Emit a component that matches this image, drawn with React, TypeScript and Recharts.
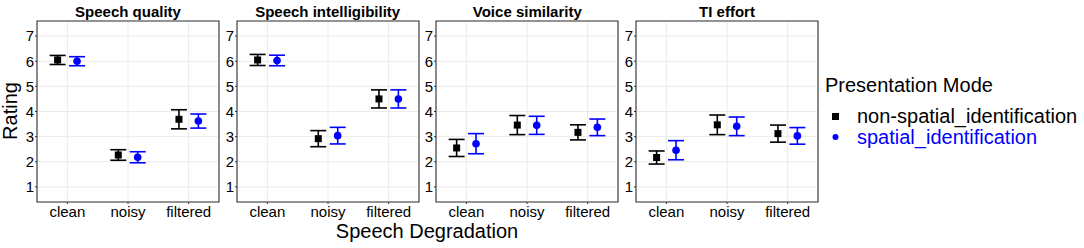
import React from "react";
import {
  CartesianGrid,
  ErrorBar,
  ReferenceArea,
  Scatter,
  ScatterChart,
  XAxis,
  YAxis,
} from "recharts";

const categories = ["clean", "noisy", "filtered"];
const panelTitles = [
  "Speech quality",
  "Speech intelligibility",
  "Voice similarity",
  "TI effort",
];
const seriesNames = ["non-spatial_identification", "spatial_identification"];
const yTicks = [1, 2, 3, 4, 5, 6, 7];

// one row per panel, columns = clean / noisy / filtered
const nonSpatialMean = [
  [6.05, 2.27, 3.69],
  [6.05, 2.92, 4.5],
  [2.55, 3.46, 3.17],
  [2.17, 3.47, 3.12],
];
const nonSpatialErr = [
  [0.18, 0.21, 0.38],
  [0.22, 0.32, 0.36],
  [0.34, 0.38, 0.3],
  [0.26, 0.39, 0.34],
];
const spatialMean = [
  [6.0, 2.18, 3.62],
  [6.03, 3.04, 4.5],
  [2.72, 3.45, 3.37],
  [2.46, 3.41, 3.03],
];
const spatialErr = [
  [0.18, 0.22, 0.28],
  [0.21, 0.33, 0.36],
  [0.4, 0.36, 0.33],
  [0.38, 0.37, 0.33],
];

const FONT = "'Liberation Sans', Arial, sans-serif";
const BLUE = "#0000ff";
const DODGE = 0.16;
const PLOT_W = 182;
const PLOT_H = 181;
const Y_AXIS_W = 30;
const X_AXIS_H = 30;
const PAD = 2;

const SquareDot = (p: any) => (
  <rect x={p.cx - 3.5} y={p.cy - 3.5} width={7} height={7} fill="#000" />
);
const CircleDot = (p: any) => (
  <circle cx={p.cx} cy={p.cy} r={3.8} fill={BLUE} />
);

function buildRows(means: number[][], errs: number[][], idx: number, shift: number) {
  return categories.map((c, i) => ({
    name: c,
    x: i + 1 + shift,
    y: means[idx][i],
    err: errs[idx][i],
  }));
}

function Panel({ idx, left }: { idx: number; left: number }) {
  const black = buildRows(nonSpatialMean, nonSpatialErr, idx, -DODGE);
  const blue = buildRows(spatialMean, spatialErr, idx, DODGE);
  const tick = { fontSize: 15, fill: "#000", fontFamily: FONT };
  return (
    <div style={{ position: "absolute", left: left - Y_AXIS_W, top: 21 - PAD }}>
      <ScatterChart
        width={Y_AXIS_W + PLOT_W + PAD}
        height={PAD + PLOT_H + X_AXIS_H}
        margin={{ top: PAD, right: PAD, bottom: 0, left: 0 }}
      >
        <CartesianGrid stroke="#ebebeb" strokeWidth={1} />
        <XAxis
          type="number"
          dataKey="x"
          domain={[0.5, 3.5]}
          ticks={[1, 2, 3]}
          interval={0}
          tickFormatter={(v: number) => categories[v - 1]}
          height={X_AXIS_H}
          axisLine={false}
          tickSize={2}
          tickMargin={2}
          tickLine={{ stroke: "#333" }}
          tick={tick}
        />
        <YAxis
          type="number"
          dataKey="y"
          domain={[0.4, 7.6]}
          ticks={yTicks}
          interval={0}
          width={Y_AXIS_W}
          axisLine={false}
          tickSize={2}
          tickMargin={1}
          tickLine={{ stroke: "#333" }}
          tick={tick}
        />
        <Scatter
          data={black}
          shape={SquareDot}
          isAnimationActive={false}
        >
          <ErrorBar
            dataKey="err"
            direction="y"
            width={8}
            stroke="#000"
            strokeWidth={1.6}
          />
        </Scatter>
        <Scatter data={blue} shape={CircleDot} isAnimationActive={false}>
          <ErrorBar
            dataKey="err"
            direction="y"
            width={8}
            stroke={BLUE}
            strokeWidth={1.6}
          />
        </Scatter>
        <ReferenceArea
          x1={0.5}
          x2={3.5}
          y1={0.4}
          y2={7.6}
          fill="none"
          fillOpacity={0}
          stroke="#333"
          strokeWidth={1.1}
        />
      </ScatterChart>
      <div
        style={{
          position: "absolute",
          left: Y_AXIS_W,
          width: PLOT_W,
          top: -16,
          textAlign: "center",
          fontFamily: FONT,
          fontWeight: "bold",
          fontSize: 15,
          lineHeight: "18px",
          color: "#000",
          whiteSpace: "nowrap",
        }}
      >
        {panelTitles[idx]}
      </div>
    </div>
  );
}

export default function App() {
  const lefts = [37, 236.7, 436.3, 636];
  return (
    <div
      style={{
        position: "absolute",
        left: 0,
        top: 0,
        width: 1084,
        height: 248,
        background: "#fff",
        fontFamily: FONT,
      }}
    >
      {lefts.map((l, i) => (
        <Panel key={i} idx={i} left={l} />
      ))}
      <svg
        width={1084}
        height={248}
        style={{ position: "absolute", left: 0, top: 0, pointerEvents: "none" }}
        fontFamily={FONT}
      >
        <text
          x={17}
          y={111}
          fontSize={20}
          textAnchor="middle"
          transform="rotate(-90 17 111)"
        >
          Rating
        </text>
        <text x={427} y={238} fontSize={20} textAnchor="middle">
          Speech Degradation
        </text>
        <text x={825} y={92} fontSize={20}>
          Presentation Mode
        </text>
        <rect x={832} y={113} width={7} height={7} fill="#000" />
        <text x={857} y={123} fontSize={20} fill="#000">
          {seriesNames[0]}
        </text>
        <circle cx={835.5} cy={137} r={3} fill={BLUE} />
        <text x={857} y={144} fontSize={20} fill={BLUE}>
          {seriesNames[1]}
        </text>
      </svg>
    </div>
  );
}
